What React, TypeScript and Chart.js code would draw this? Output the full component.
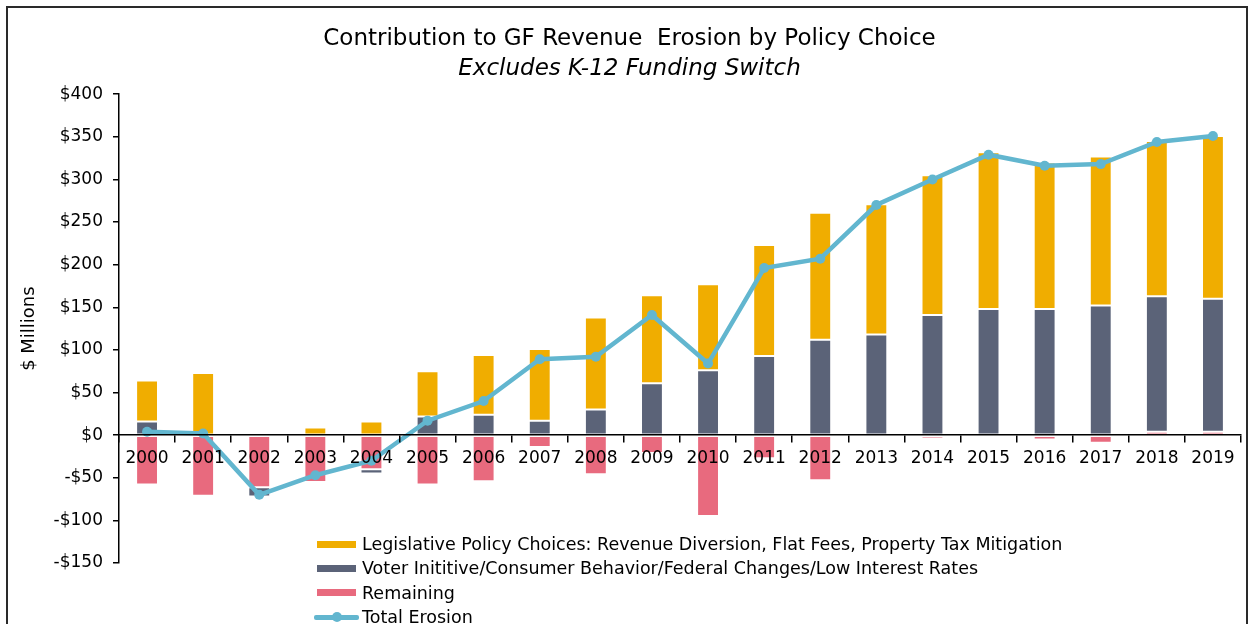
import React, { useEffect, useRef } from "react";
import { Chart, registerables } from "chart.js";

Chart.register(...registerables);

const titleText = "Contribution to GF Revenue  Erosion by Policy Choice";
const subtitleText = "Excludes K-12 Funding Switch";
const yAxisTitle = "$ Millions";

const years = [
  "2000", "2001", "2002", "2003", "2004", "2005", "2006", "2007", "2008", "2009",
  "2010", "2011", "2012", "2013", "2014", "2015", "2016", "2017", "2018", "2019",
];

const seriesNames = [
  "Legislative Policy Choices: Revenue Diversion, Flat Fees, Property Tax Mitigation",
  "Voter Inititive/Consumer Behavior/Federal Changes/Low Interest Rates",
  "Remaining",
  "Total Erosion",
];

const legislative = [48, 73, 3, 9, 16, 53, 70, 84, 108, 103, 101, 130, 149, 153, 164, 184, 172, 175, 182, 191];
const voter = [16, 0, -11, 0, -5, 22, 24, 17, 30, 61, 76, 93, 112, 118, 141, 148, 148, 152, 159, 156];
const remaining = [-58, -71, -61, -55, -40, -58, -54, -14, -46, -21, -95, -27, -53, 0, -4, 0, -5, -9, 4, 4];
const totalErosion = [4, 2, -70, -47, -30, 17, 40, 89, 92, 141, 84, 196, 207, 270, 300, 329, 316, 318, 344, 351];

const yMin = -150;
const yMax = 400;
const yStep = 50;

const colors = ["#F0AD00", "#5B6378", "#E86A7E", "#62B6CF"];

const FONT = "'DejaVu Sans', 'Liberation Sans', Arial, sans-serif";

export default function App() {
  const ref = useRef<HTMLCanvasElement | null>(null);

  useEffect(() => {
    if (!ref.current) return;
    const barCommon = {
      type: "bar" as const,
      stack: "bars",
      borderColor: "#ffffff",
      borderWidth: 1,
      borderSkipped: false as const,
      barPercentage: 0.39,
      categoryPercentage: 1,
    };
    const chart = new Chart(ref.current, {
      type: "bar",
      data: {
        labels: years,
        datasets: [
          {
            type: "line" as const,
            label: seriesNames[3],
            data: totalErosion,
            stack: "total",
            borderColor: colors[3],
            backgroundColor: colors[3],
            borderWidth: 4.5,
            pointRadius: 5,
            pointBackgroundColor: colors[3],
            pointBorderColor: colors[3],
            pointBorderWidth: 0,
            tension: 0,
          },
          { ...barCommon, label: seriesNames[2], data: remaining, backgroundColor: colors[2] },
          { ...barCommon, label: seriesNames[1], data: voter, backgroundColor: colors[1] },
          { ...barCommon, label: seriesNames[0], data: legislative, backgroundColor: colors[0] },
        ] as any,
      },
      options: {
        responsive: false,
        animation: false,
        devicePixelRatio: 1,
        layout: { padding: { left: 18, right: 9, top: 0, bottom: 61 } },
        plugins: {
          legend: { display: false },
          tooltip: { enabled: false },
          title: {
            display: true,
            text: titleText,
            color: "#000",
            font: { family: FONT, size: 23, weight: "normal" },
            padding: { top: 25, bottom: 0 },
          },
          subtitle: {
            display: true,
            text: subtitleText,
            color: "#000",
            font: { family: FONT, size: 23, style: "italic", weight: "normal" },
            padding: { top: 3, bottom: 11 },
          },
        },
        scales: {
          x: {
            stacked: true,
            position: { y: 0 } as any,
            offset: true,
            grid: {
              offset: true,
              drawOnChartArea: false,
              drawTicks: true,
              tickLength: 7,
              color: "#000",
              tickColor: "#000",
              lineWidth: 1.5,
              z: 1,
            },
            border: { display: true, color: "#000", width: 1.5, z: 1 },
            ticks: {
              color: "#000",
              font: { family: FONT, size: 17 },
              padding: 6,
              maxRotation: 0,
              autoSkip: false,
              z: 1,
            },
            afterFit: (s: any) => {
              s.height = 0;
            },
          },
          y: {
            stacked: true,
            min: yMin,
            max: yMax,
            grid: {
              drawOnChartArea: false,
              drawTicks: true,
              tickLength: 6,
              color: "#000",
              tickColor: "#000",
              lineWidth: 1.5,
            },
            border: { display: true, color: "#000", width: 1.5 },
            ticks: {
              stepSize: yStep,
              color: "#000",
              font: { family: FONT, size: 17 },
              padding: 10,
              callback: (v: any) => (Number(v) < 0 ? "-$" : "$") + Math.abs(Number(v)),
            },
            title: {
              display: true,
              text: yAxisTitle,
              color: "#000",
              font: { family: FONT, size: 18 },
              padding: { top: 1, bottom: 0 },
            },
            afterFit: (s: any) => {
              s.width = 101;
            },
          },
        },
      },
    });
    return () => chart.destroy();
  }, []);

  const legendOrder = [0, 1, 2, 3];

  return (
    <div style={{ position: "relative", width: 1250, height: 624, overflow: "hidden", background: "#fff" }}>
      <style>{"html,body{margin:0;padding:0;overflow:hidden;background:#fff}"}</style>
      <div
        style={{
          position: "absolute",
          left: 6,
          top: 6,
          width: 1242,
          height: 700,
          boxSizing: "border-box",
          border: "2px solid #2a2a2a",
        }}
      />
      <canvas ref={ref} width={1250} height={624} style={{ position: "absolute", left: 0, top: 0 }} />
      <div
        style={{
          position: "absolute",
          left: 314,
          top: 532,
          fontFamily: FONT,
          fontSize: 17.5,
          color: "#000",
        }}
      >
        {legendOrder.map((i) => (
          <div key={i} style={{ display: "flex", alignItems: "center", height: 24.3, whiteSpace: "nowrap" }}>
            <div style={{ position: "relative", width: 45, height: 10, marginRight: 3 }}>
              {i < 3 ? (
                <div style={{ position: "absolute", left: 3, top: 1.5, width: 39, height: 7, background: colors[i] }} />
              ) : (
                <>
                  <div style={{ position: "absolute", left: 0, top: 2.5, width: 45, height: 5, background: colors[i], borderRadius: 2 }} />
                  <div style={{ position: "absolute", left: 18, top: 0, width: 10, height: 10, borderRadius: 5, background: colors[i] }} />
                </>
              )}
            </div>
            <span>{seriesNames[i]}</span>
          </div>
        ))}
      </div>
    </div>
  );
}
